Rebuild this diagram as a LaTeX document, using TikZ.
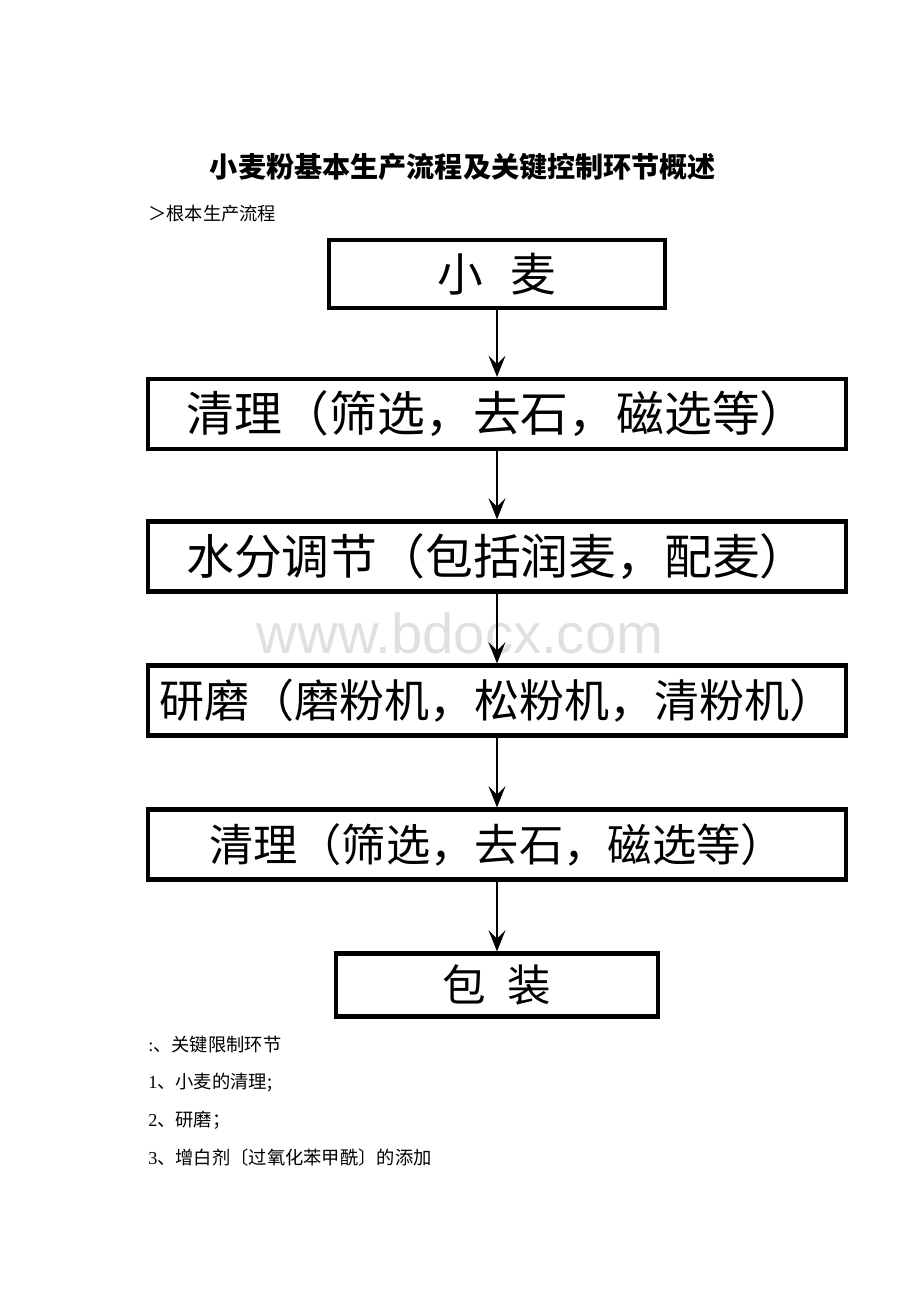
\documentclass[tikz,border=0pt]{standalone}
\usepackage{fontspec}
\setmainfont{Liberation Serif}
\newfontfamily\cjk{Noto Sans CJK SC}
\newfontfamily\markfont{Liberation Sans}
\usetikzlibrary{arrows.meta}

\tikzset{
  stagebox/.style={draw, line width=3pt, inner sep=0pt, minimum width=17.45cm, minimum height=1.75cm},
  bigtext/.style={font=\cjk\fontsize{34}{34}\selectfont},
  midtext/.style={font=\cjk\fontsize{32}{32}\selectfont},
  flowarrow/.style={line width=1.3pt, -{Stealth[length=15pt,width=12pt,inset=6pt]}},
  listtext/.style={anchor=west, inner sep=0pt, font=\fontsize{13}{13}\selectfont}
}

\begin{document}
\begin{tikzpicture}[x=0.025cm,y=-0.025cm]
\useasboundingbox (0,0) rectangle (920,1302);
% watermark behind everything
\node[text=black!12, font=\markfont\fontsize{40}{40}\selectfont] (mark) at (460,633) {www.bdocx.com};

\node[font=\cjk\bfseries\fontsize{20}{20}\selectfont] (title) at (463,167) {小麦粉基本生产流程及关键控制环节概述};
\node[listtext] (sub) at (148,214) {\cjk ＞根本生产流程};

% flow boxes
\node[stagebox, font=\cjk\fontsize{32.5}{32.5}\selectfont, minimum width=8.4cm, minimum height=1.7cm] (wheat) at (497,274) {小\hspace{0.6em}麦};
\node[stagebox, bigtext] (clean) at (497,414) {清理（筛选，去石，磁选等）};
\node[stagebox, bigtext] (water) at (497,556.5) {水分调节（包括润麦，配麦）};
\node[stagebox, midtext] (mill) at (497,700.5) {研磨（磨粉机，松粉机，清粉机）};
\node[stagebox, font=\cjk\fontsize{31.5}{31.5}\selectfont] (recheck) at (497,844.5) {清理（筛选，去石，磁选等）};
\node[stagebox, font=\cjk\fontsize{31}{31}\selectfont, minimum width=8.05cm, minimum height=1.575cm] (pack) at (497,985) {包\hspace{0.5em}装};

\draw[flowarrow] (wheat.south) -- (clean.north);
\draw[flowarrow] (clean.south) -- (water.north);
\draw[flowarrow] (water.south) -- (mill.north);
\draw[flowarrow] (mill.south) -- (recheck.north);
\draw[flowarrow] (recheck.south) -- (pack.north);

% key points
\node[listtext] (keyhead) at (148,1045) {:\cjk 、关键限制环节};
\node[listtext] (key1) at (148,1083) {1\cjk 、小麦的清理;};
\node[listtext] (key2) at (148,1120) {2\cjk 、研磨；};
\node[listtext] (key3) at (148,1158) {3\cjk 、增白剂〔过氧化苯甲酰〕的添加};
\end{tikzpicture}
\end{document}
